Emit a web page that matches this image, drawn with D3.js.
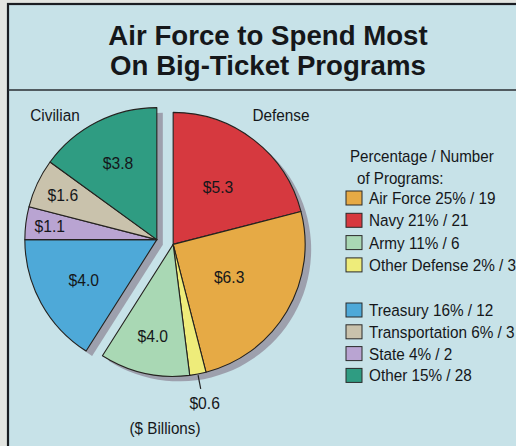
<!DOCTYPE html>
<html><head><meta charset="utf-8">
<script src="https://cdn.jsdelivr.net/npm/d3@7"></script>
<style>html,body{margin:0;padding:0;background:#e3e5e1;}svg{display:block;}</style>
</head><body>
<script>
// ---- data ----
const groups = ["Defense", "Defense", "Defense", "Defense", "Civilian", "Civilian", "Civilian", "Civilian"];
const names = ["Navy", "Air Force", "Other Defense", "Army", "Treasury", "State", "Transportation", "Other"];
const dollars = [5.3, 6.3, 0.6, 4.0, 4.0, 1.1, 1.6, 3.8];
const percents = [21, 25, 2, 11, 16, 4, 6, 15];
const programs = [21, 19, 3, 6, 12, 2, 3, 28];
const colors = ["#d6393f", "#e6aa45", "#eeec7a", "#a9d8b4", "#4ea9d8", "#b9a4d2", "#c9c2ac", "#2f9c82"];
const legendOrder = ["Air Force", "Navy", "Army", "Other Defense", "Treasury", "Transportation", "State", "Other"];
const titleLines = ["Air Force to Spend Most", "On Big-Ticket Programs"];

const W = 516, H = 446;
const FONT = "'Liberation Sans Narrow','Arial Narrow','Liberation Sans',Arial,sans-serif";
const svg = d3.select("body").append("svg").attr("width", W).attr("height", H);

// panel
svg.append("rect").attr("x", 8).attr("y", 4).attr("width", W).attr("height", H)
  .attr("fill", "#c7e2e8").attr("stroke", "#1a1d22").attr("stroke-width", 2.2);
svg.append("line").attr("x1", 8).attr("x2", W).attr("y1", 90).attr("y2", 90)
  .attr("stroke", "#2a2e33").attr("stroke-width", 1.6);

function ctext(g, x, y, txt, size, anchor, weight, sx) {
  return g.append("text").attr("transform", `translate(${x},${y}) scale(${sx},1)`)
    .attr("text-anchor", anchor).attr("font-family", FONT).attr("font-size", size)
    .attr("font-weight", weight || "normal").attr("fill", "#15171a").text(txt);
}

// title
titleLines.forEach((l, i) => ctext(svg, 268, 45 + i * 30, l, 28.5, "middle", "bold", 0.97));

// pie
const data = names.map((n, i) => ({name: n, group: groups[i], dollars: dollars[i], pct: percents[i], color: colors[i]}));
const pie = d3.pie().value(d => d.pct).sort(null).startAngle(0);
const arcsData = pie(data);
const R = 132, cx = 165, cy = 242, explode = 8.5;
const arc = d3.arc().innerRadius(0).outerRadius(R);

const groupNames = ["Defense", "Civilian"];
const groupInfo = groupNames.map(g => {
  const a = arcsData.filter(d => d.data.group === g);
  const s = d3.min(a, d => d.startAngle), e = d3.max(a, d => d.endAngle);
  const m = (s + e) / 2;
  return {g, s, e, dx: explode * Math.sin(m), dy: -explode * Math.cos(m)};
});

const pieG = svg.append("g").attr("transform", `translate(${cx},${cy})`);
// shadows
groupInfo.forEach(gi => {
  pieG.append("path").attr("d", arc({startAngle: gi.s, endAngle: gi.e}))
    .attr("transform", `translate(${gi.dx + 6},${gi.dy + 5})`)
    .attr("fill", "#9899a6").attr("opacity", 0.9);
});
groupInfo.forEach(gi => {
  const gg = pieG.append("g").attr("transform", `translate(${gi.dx},${gi.dy})`);
  const a = arcsData.filter(d => d.data.group === gi.g);
  gg.selectAll("path").data(a).join("path").attr("d", arc)
    .attr("fill", d => d.data.color).attr("stroke", "#24221f").attr("stroke-width", 1.1)
    .attr("stroke-linejoin", "round");
  a.forEach(d => {
    const m = (d.startAngle + d.endAngle) / 2;
    const frac = d.data.pct / 100;
    if (frac < 0.03) {
      const r1 = R + 1, r2 = R + 15, r3 = R + 36;
      gg.append("line").attr("x1", r1 * Math.sin(m)).attr("y1", -r1 * Math.cos(m))
        .attr("x2", r2 * Math.sin(m)).attr("y2", -r2 * Math.cos(m))
        .attr("stroke", "#222").attr("stroke-width", 1.2);
      ctext(gg, r3 * Math.sin(m), -r3 * Math.cos(m), "$" + d.data.dollars.toFixed(1), 16.5, "middle", "normal", 0.95);
    } else {
      const lr = R * (0.88 - 1.55 * frac);
      ctext(gg, lr * Math.sin(m), -lr * Math.cos(m) + 6, "$" + d.data.dollars.toFixed(1), 16.5, "middle", "normal", 0.95);
    }
  });
});

// group labels
ctext(svg, 55, 121, "Civilian", 16.5, "middle", "normal", 0.93);
ctext(svg, 281, 121, "Defense", 16.5, "middle", "normal", 0.93);
ctext(svg, 165, 434, "($ Billions)", 16, "middle", "normal", 0.95);

// legend
const lg = svg.append("g");
ctext(lg, 350, 162, "Percentage / Number", 17, "start", "normal", 0.89);
ctext(lg, 357, 184, "of Programs:", 17, "start", "normal", 0.89);
legendOrder.forEach((n, i) => {
  const idx = names.indexOf(n);
  const y = i < 4 ? 198 + i * 22.3 : 310 + (i - 4) * 21.8;
  lg.append("rect").attr("x", 346).attr("y", y - 7).attr("width", 16).attr("height", 14)
    .attr("fill", colors[idx]).attr("stroke", "#2a2a2a").attr("stroke-width", 1);
  ctext(lg, 369, y + 6, `${n} ${percents[idx]}% / ${programs[idx]}`, 17, "start", "normal", 0.9);
});
</script>
</body></html>
